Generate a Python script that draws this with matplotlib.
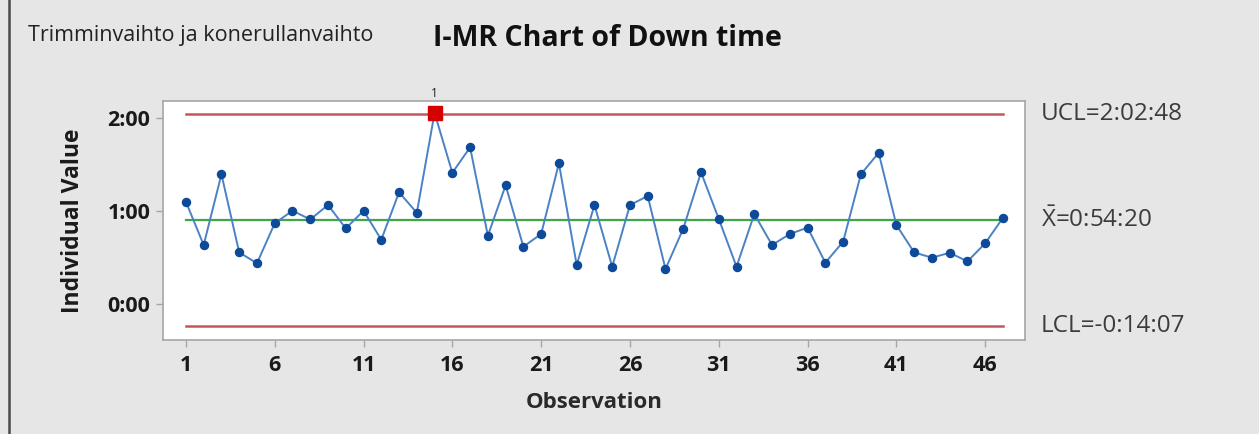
import matplotlib
matplotlib.use("Agg")
import matplotlib.pyplot as plt
from matplotlib.lines import Line2D
from matplotlib.ticker import FixedLocator, FuncFormatter

plt.rcParams['font.family'] = ['Open Sans', 'DejaVu Sans']
plt.rcParams['mathtext.fontset'] = 'custom'
plt.rcParams['mathtext.rm'] = 'Open Sans'

# ---- data (minutes) ----
observations = list(range(1, 48))
down_time_min = [66.2, 38.3, 83.9, 33.5, 26.5, 52.3, 60.4, 54.8, 64.1, 49.0,
                 60.4, 41.7, 72.3, 59.1, 123.5, 84.9, 101.3, 44.3, 76.8, 37.2,
                 45.4, 91.0, 25.4, 64.1, 24.3, 64.1, 69.9, 22.8, 48.8, 85.2,
                 55.1, 24.3, 58.3, 38.3, 45.4, 49.5, 26.9, 40.4, 83.9, 97.8,
                 51.2, 33.5, 30.1, 33.3, 27.7, 39.4, 55.9]
ucl_min = 122.8          # 2:02:48
mean_min = 54.3333       # 0:54:20
lcl_min = -14.1167       # -0:14:07
ucl_label = "UCL=2:02:48"
mean_label = r"$\bar{\mathrm{X}}$=0:54:20"
lcl_label = "LCL=-0:14:07"
flagged_obs = [15]
x_ticks = [1, 6, 11, 16, 21, 26, 31, 36, 41, 46]
y_ticks = [0, 60, 120]
title = "I-MR Chart of Down time"
subtitle = "Trimminvaihto ja konerullanvaihto"

W, H = 1259, 434
fig = plt.figure(figsize=(W / 100, H / 100), dpi=100)
fig.patch.set_facecolor('#e6e6e6')

L, R, T, B = 163, 1025, 100.7, 340
ax = fig.add_axes([L / W, 1 - B / H, (R - L) / W, (B - T) / H])
ax.set_facecolor('white')
for s in ax.spines.values():
    s.set_color('#a6a6a6')
    s.set_linewidth(1.2)

x0, x1 = observations[0], observations[-1]
ax.plot([x0, x1], [ucl_min, ucl_min], color='#c6555c', lw=1.8, zorder=2)
ax.plot([x0, x1], [lcl_min, lcl_min], color='#c6555c', lw=1.8, zorder=2)
ax.plot([x0, x1], [mean_min, mean_min], color='#3fa64a', lw=1.6, zorder=2)

ax.plot(observations, down_time_min, color='#4a82c4', lw=1.4, marker='o',
        markersize=5.8, markerfacecolor='#0d4a99', markeredgecolor='#0d4a99', zorder=3)

for o in flagged_obs:
    v = down_time_min[o - 1]
    ax.plot([o], [v], marker='s', markersize=9.5, color='#d50000', zorder=4,
            linestyle='none')
    ax.annotate('1', (o, v), xytext=(0, 9), textcoords='offset points',
                ha='center', va='bottom', fontsize=8.5, color='#222222',
                annotation_clip=False)

ax.set_xlim(-0.29, 48.24)
ax.set_ylim(-23.0, 131.4)

ax.xaxis.set_major_locator(FixedLocator(x_ticks))
ax.yaxis.set_major_locator(FixedLocator(y_ticks))
ax.yaxis.set_major_formatter(FuncFormatter(lambda v, p: f"{int(v // 60)}:{int(v % 60):02d}"))
ax.tick_params(axis='both', direction='out', length=5, width=1, color='#a6a6a6',
               labelsize=15.5, labelcolor='#1a1a1a', pad=4)
ax.tick_params(axis='x', pad=6)
for lab in ax.get_xticklabels() + ax.get_yticklabels():
    lab.set_fontweight('bold')

ax.set_xlabel('Observation', fontsize=16, fontweight='bold', color='#2a2a2a')
ax.xaxis.set_label_coords(0.5, -(402 - B) / (B - T))
ax.xaxis.label.set_va('center')
ax.set_ylabel('Individual Value', fontsize=16.5, fontweight='bold', color='#1a1a1a')
ax.yaxis.set_label_coords((73 - L) / (R - L), 0.5)
ax.yaxis.label.set_va('center')

# limit labels to the right
for val, lab in [(ucl_min, ucl_label), (mean_min, mean_label), (lcl_min, lcl_label)]:
    ax.annotate(lab, xy=(1.0, val), xycoords=('axes fraction', 'data'),
                xytext=(1041 - R, 0), textcoords='offset pixels',
                ha='left', va='center', fontsize=17.5, color='#3c3c3c',
                annotation_clip=False)

fig.text(433 / W, 1 - 39 / H, title, fontsize=20.5, fontweight='bold',
         color='#111111', ha='left', va='center')
fig.text(28 / W, 1 - 36 / H, subtitle, fontsize=15.5, color='#222222',
         ha='left', va='center')

fig.add_artist(Line2D([9 / W, 9 / W], [0, 1], transform=fig.transFigure,
                      color='#4a4a4a', lw=1.8))

fig.savefig('out.png', dpi=100, facecolor=fig.get_facecolor())
